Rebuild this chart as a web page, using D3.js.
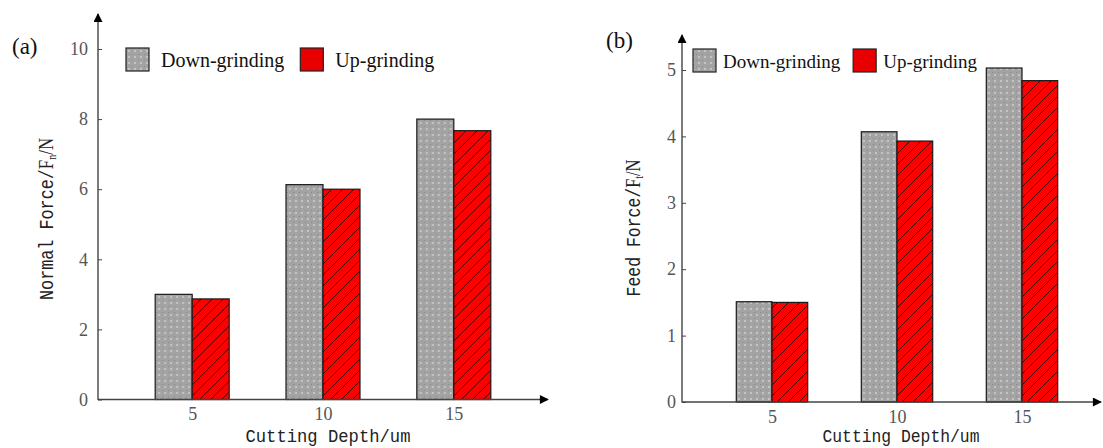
<!DOCTYPE html>
<html>
<head>
<meta charset="utf-8">
<script src="https://cdn.jsdelivr.net/npm/d3@7/dist/d3.min.js"></script>
<style>
  body { margin: 0; background: #fff; }
  svg { display: block; }
</style>
</head>
<body>
<div id="chart"></div>
<script>
// data
const categories = ["5", "10", "15"];
const seriesNames = ["Down-grinding", "Up-grinding"];
const normalDown = [3.0, 6.13, 8.0];
const normalUp = [2.87, 6.0, 7.67];
const feedDown = [1.51, 4.07, 5.03];
const feedUp = [1.5, 3.93, 4.84];
const normalTicks = [0, 2, 4, 6, 8, 10];
const feedTicks = [0, 1, 2, 3, 4, 5];

const W = 1103, H = 448;
const svg = d3.select("#chart").append("svg").attr("width", W).attr("height", H);

// patterns: dotted gray and red hatch
const defs = svg.append("defs");
const dots = defs.append("pattern").attr("id", "dots")
    .attr("width", 6).attr("height", 6).attr("patternUnits", "userSpaceOnUse");
dots.append("rect").attr("width", 6).attr("height", 6).attr("fill", "#a3a3a3");
dots.append("circle").attr("cx", 3).attr("cy", 3).attr("r", 1.1).attr("fill", "#cbcbcb");
dots.append("rect").attr("x", 0).attr("y", 0).attr("width", 1).attr("height", 1).attr("fill", "#888");

const hatch = defs.append("pattern").attr("id", "hatch")
    .attr("width", 11).attr("height", 11).attr("patternUnits", "userSpaceOnUse");
hatch.append("rect").attr("width", 11).attr("height", 11).attr("fill", "#ff0000");
hatch.append("path").attr("d", "M0,11 L11,0 M-2,2 L2,-2 M9,13 L13,9")
    .attr("stroke", "#3a0000").attr("stroke-width", 0.9);

const arrow = defs.append("marker").attr("id", "arrow")
    .attr("viewBox", "0 0 10 10").attr("refX", 9).attr("refY", 5)
    .attr("markerUnits", "userSpaceOnUse")
    .attr("markerWidth", 10).attr("markerHeight", 9).attr("orient", "auto");
arrow.append("path").attr("d", "M0,0 L10,5 L0,10 Z").attr("fill", "#000");

const fills = ["url(#dots)", "url(#hatch)"];
const swatchFills = ["url(#dots)", "#e80000"];

function drawPanel(opt) {
    const g = svg.append("g");

    const x = d3.scalePoint().domain(categories)
        .range([opt.x0, opt.x1]).padding(0.72);
    const xs = d3.scaleBand().domain(seriesNames)
        .range([-opt.barW, opt.barW]);
    const y = d3.scaleLinear().domain([0, opt.yMax]).range([opt.y0, opt.yTop]);

    // bars
    const rows = categories.map((c, i) => ({ c, vals: [opt.down[i], opt.up[i]] }));
    const grp = g.selectAll("g.grp").data(rows).enter().append("g")
        .attr("transform", d => `translate(${x(d.c)},0)`);
    grp.selectAll("rect").data(d => d.vals.map((v, k) => ({ v, k })))
        .enter().append("rect")
        .attr("x", d => xs(seriesNames[d.k]))
        .attr("width", xs.bandwidth())
        .attr("y", d => y(d.v))
        .attr("height", d => y(0) - y(d.v))
        .attr("fill", d => fills[d.k])
        .attr("stroke", "#1a1a1a")
        .attr("stroke-width", 1.2);

    // y axis ticks + labels
    const yAxis = d3.axisLeft(y).tickValues(opt.ticks)
        .tickSizeInner(-4).tickSizeOuter(0).tickPadding(opt.labelGap)
        .tickFormat(d3.format("d"));
    const ya = g.append("g").attr("transform", `translate(${opt.x0},0)`).call(yAxis);
    ya.select(".domain").remove();
    ya.selectAll("line").attr("stroke", "#444");
    ya.selectAll("text").attr("font-family", "'Liberation Serif', serif")
        .attr("font-size", 18).attr("fill", "#555");

    // x axis labels
    const xAxis = d3.axisBottom(x).tickSize(0).tickPadding(opt.xPad);
    const xa = g.append("g").attr("transform", `translate(0,${opt.y0})`).call(xAxis);
    xa.select(".domain").remove();
    xa.selectAll("text").attr("font-family", "'Liberation Serif', serif")
        .attr("font-size", 18).attr("fill", "#555");

    // axis lines with arrows
    g.append("line").attr("x1", opt.x0).attr("y1", opt.y0 + 0.5)
        .attr("x2", opt.x0).attr("y2", opt.arrowTop)
        .attr("stroke", "#444").attr("stroke-width", 1.4).attr("marker-end", "url(#arrow)");
    g.append("line").attr("x1", opt.x0).attr("y1", opt.y0)
        .attr("x2", opt.arrowRight).attr("y2", opt.y0)
        .attr("stroke", "#444").attr("stroke-width", 1.4).attr("marker-end", "url(#arrow)");

    // x title
    g.append("text").attr("x", opt.xTitleX).attr("y", 442)
        .attr("text-anchor", "middle")
        .attr("font-family", "'Liberation Mono', monospace")
        .attr("font-size", 19).attr("fill", "#222")
        .attr("textLength", opt.xTitleLen).attr("lengthAdjust", "spacingAndGlyphs")
        .text("Cutting Depth/um");

    // y title
    const yt = g.append("text")
        .attr("transform", `translate(${opt.yTitleX},${opt.yTitleY}) rotate(-90)`)
        .attr("text-anchor", "middle").attr("fill", "#222").attr("font-size", 20)
        .attr("textLength", opt.yTitleLen).attr("lengthAdjust", "spacingAndGlyphs");
    yt.append("tspan").attr("font-family", "'Liberation Mono', monospace").text(opt.yTitle);
    yt.append("tspan").attr("font-family", "'Liberation Serif', serif").text("F");
    yt.append("tspan").attr("font-family", "'Liberation Serif', serif")
        .attr("font-size", 12).attr("dy", 3).text(opt.sub);
    yt.append("tspan").attr("font-family", "'Liberation Serif', serif")
        .attr("dy", -3).text("/N");

    // panel label
    g.append("text").attr("x", opt.labelX).attr("y", opt.labelY)
        .attr("font-family", "'Liberation Serif', serif").attr("font-size", 23)
        .attr("fill", "#111").text(opt.label);

    // legend
    let lx = opt.legX;
    seriesNames.forEach((s, k) => {
        g.append("rect").attr("x", lx).attr("y", opt.legY)
            .attr("width", 23).attr("height", 23)
            .attr("fill", swatchFills[k]).attr("stroke", "#222").attr("stroke-width", 1.2);
        const t = g.append("text").attr("x", lx + opt.legTextGap).attr("y", opt.legY + 19)
            .attr("font-family", "'Liberation Serif', serif")
            .attr("font-size", opt.legFont).attr("fill", "#111").text(s);
        lx = lx + opt.legTextGap + t.node().getComputedTextLength() + opt.legItemGap;
    });
}

drawPanel({
    x0: 98, x1: 548, y0: 399.5, yTop: 49, yMax: 10, arrowTop: 14, arrowRight: 548,
    barW: 37, ticks: normalTicks, down: normalDown, up: normalUp,
    labelGap: 10, xPad: 8,
    xTitleX: 328, xTitleLen: 165,
    yTitle: "Normal Force/", sub: "n", yTitleX: 53, yTitleY: 219, yTitleLen: 162,
    label: "(a)", labelX: 12, labelY: 54,
    legX: 126, legY: 48, legTextGap: 35, legItemGap: 16, legFont: 20
});

drawPanel({
    x0: 682, x1: 1112, y0: 402, yTop: 70, yMax: 5, arrowTop: 35, arrowRight: 1101,
    barW: 35.7, ticks: feedTicks, down: feedDown, up: feedUp,
    labelGap: 6, xPad: 8,
    xTitleX: 901, xTitleLen: 157,
    yTitle: "Feed Force/", sub: "t", yTitleX: 640, yTitleY: 228, yTitleLen: 137,
    label: "(b)", labelX: 606, labelY: 48,
    legX: 693, legY: 49, legTextGap: 30, legItemGap: 13, legFont: 19
});
</script>
</body>
</html>
